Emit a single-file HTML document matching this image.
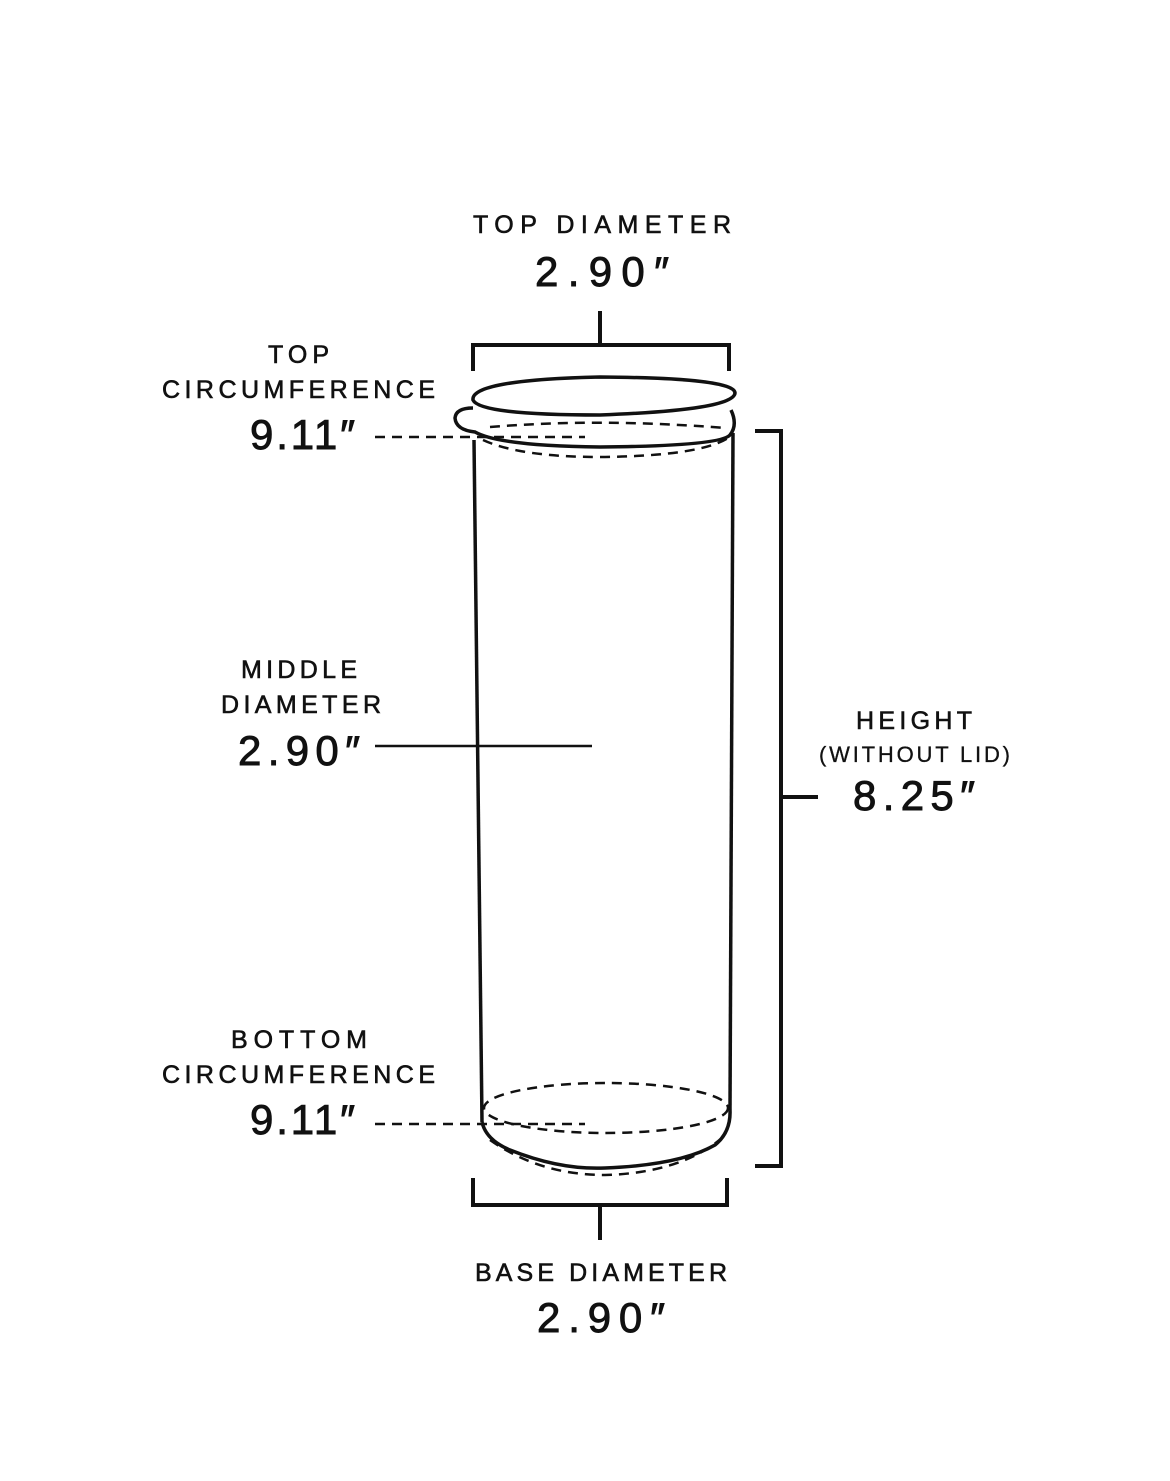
<!DOCTYPE html>
<html><head><meta charset="utf-8"><style>
html,body{margin:0;padding:0;background:#fff}
svg{display:block}
text{font-family:"Liberation Sans",sans-serif;fill:#111;stroke:#111;stroke-width:0.6}
.s{font-size:25px}
.b{font-size:42px;stroke-width:0.9}
</style></head><body>
<svg width="1170" height="1481" viewBox="0 0 1170 1481" xmlns="http://www.w3.org/2000/svg">
<g fill="none" stroke="#111" stroke-width="4">
<path d="M600 311V345M473 371V345H729V371"/>
<path d="M473 1178V1205H727V1178M600 1205V1240"/>
<path d="M755 431H781V1166H755M781 797H818"/>
<path d="M375 746H592" stroke-width="2.5"/>
<path d="M474 440L482 1122" stroke-width="3.5"/>
<path d="M733 433L730 1110" stroke-width="3.5"/>
<path d="M482 1122Q486 1140 510 1150Q560 1170 605 1168Q680 1165 715 1145Q731 1132 730 1110" stroke-width="3.5"/>
<path d="M473 400Q470 380 600 377Q735 378 735 393Q734 410 600 415Q480 415 473 400Z" stroke-width="3.5"/>
<path d="M473 408Q456 408 455 418Q456 430 475 432Q500 446 600 447Q720 446 730 435Q738 425 731 410" stroke-width="3.5"/>
</g>
<g fill="none" stroke="#111" stroke-width="2.5" stroke-dasharray="10 7">
<path d="M375 437H585"/>
<path d="M375 1124H585"/>
<path d="M490 427Q600 418 725 428"/>
<path d="M483 440Q520 457 600 457Q700 456 728 438"/>
<ellipse cx="606" cy="1108" rx="122" ry="25"/>
<path d="M490 1140Q540 1175 605 1175Q680 1173 722 1138"/>
</g>
<text class="s" x="473" y="233" textLength="258" lengthAdjust="spacing">TOP DIAMETER</text>
<text class="b" x="535" y="286" textLength="134" lengthAdjust="spacing">2.90″</text>
<text class="s" x="268" y="363" textLength="61" lengthAdjust="spacing">TOP</text>
<text class="s" x="162" y="398" textLength="273" lengthAdjust="spacing">CIRCUMFERENCE</text>
<text class="b" x="250" y="449" textLength="105" lengthAdjust="spacing">9.11″</text>
<text class="s" x="241" y="678" textLength="116" lengthAdjust="spacing">MIDDLE</text>
<text class="s" x="221" y="713" textLength="160" lengthAdjust="spacing">DIAMETER</text>
<text class="b" x="238" y="765" textLength="122" lengthAdjust="spacing">2.90″</text>
<text class="s" x="231" y="1048" textLength="136" lengthAdjust="spacing">BOTTOM</text>
<text class="s" x="162" y="1083" textLength="273" lengthAdjust="spacing">CIRCUMFERENCE</text>
<text class="b" x="250" y="1134" textLength="105" lengthAdjust="spacing">9.11″</text>
<text class="s" x="856" y="729" textLength="116" lengthAdjust="spacing">HEIGHT</text>
<text x="819" y="762" font-size="22" textLength="191" lengthAdjust="spacing" style="stroke-width:0.3">(WITHOUT LID)</text>
<text class="b" x="853" y="810" textLength="122" lengthAdjust="spacing">8.25″</text>
<text class="s" x="475" y="1281" textLength="252" lengthAdjust="spacing">BASE DIAMETER</text>
<text class="b" x="537" y="1332" textLength="128" lengthAdjust="spacing">2.90″</text>
</svg>
</body></html>
